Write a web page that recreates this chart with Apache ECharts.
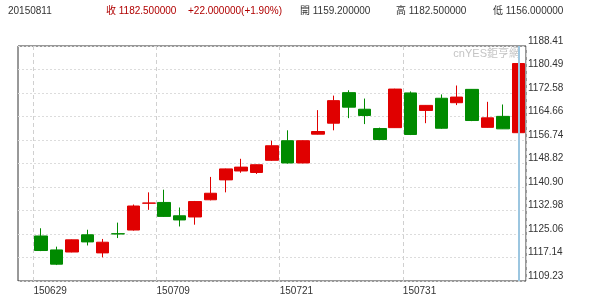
<!DOCTYPE html>
<html><head><meta charset="utf-8">
<script src="https://cdn.jsdelivr.net/npm/echarts@6/dist/echarts.min.js"></script>
<style>html,body{margin:0;padding:0;background:#fff}#c{width:600px;height:304px}</style>
</head><body><div id="c"></div>
<script>
var dates = ['', '150629','150630','150701','150702','150703','150706','150707','150708','150709','150710','150713','150714','150715','150716','150717','150720','150721','150722','150723','150724','150727','150728','150729','150730','150731','150803','150804','150805','150806','150807','150810','150811'];
var opens  = [1124.4,1119.7,1119.0,1124.8,1118.7,1125.15,1126.4,1135.45,1135.7,1131.2,1130.8,1136.6,1143.3,1146.3,1145.8,1149.9,1156.5,1149.0,1158.7,1162.4,1172.7,1167.1,1160.6,1160.9,1172.6,1166.7,1170.8,1169.3,1173.8,1161.0,1164.7,1159.2];
var closes = [1119.5,1114.9,1123.1,1122.4,1122.3,1125.1,1134.5,1135.5,1131.0,1129.8,1136.0,1138.8,1147.0,1147.6,1148.4,1154.8,1149.0,1156.5,1159.6,1170.0,1167.8,1165.0,1156.9,1173.9,1158.6,1168.4,1160.7,1171.2,1163.3,1164.2,1160.5,1182.5];
var highs  = [1127.0,1120.8,1123.2,1126.5,1123.4,1128.9,1135.0,1139.1,1140.0,1134.0,1136.2,1144.3,1147.1,1150.4,1148.5,1156.5,1160.0,1156.6,1166.8,1171.7,1173.5,1170.7,1160.9,1174.0,1173.1,1168.5,1172.1,1175.1,1173.9,1169.6,1168.7,1182.5];
var lows   = [1119.3,1114.6,1118.9,1121.2,1117.2,1123.7,1126.2,1133.2,1130.8,1127.6,1128.2,1136.4,1139.1,1145.7,1145.3,1149.7,1148.8,1148.9,1158.6,1160.0,1164.1,1162.1,1156.7,1160.8,1158.4,1162.4,1160.5,1168.5,1163.1,1160.9,1160.6,1156.0];
var yTickLabels = ['1109.23','1117.14','1125.06','1132.98','1140.90','1148.82','1156.74','1164.66','1172.58','1180.49','1188.41'];
var xTickIndex = [1, 9, 17, 25];
var header = {date:'20150811', close:'收 1182.500000', change:'+22.000000(+1.90%)', open:'開 1159.200000', high:'高 1182.500000', low:'低 1156.000000'};

var FONT = "'Liberation Sans','Noto Sans CJK TC',sans-serif";
var kdata = [['-','-','-','-']];
for (var i = 0; i < opens.length; i++) kdata.push([opens[i], closes[i], lows[i], highs[i]]);
var yMin = parseFloat(yTickLabels[0]), yMax = parseFloat(yTickLabels[yTickLabels.length-1]);

var chart = echarts.init(document.getElementById('c'), null, {renderer:'canvas'});
function txt(x, s, color){ return {type:'text', left:x, top:6, style:{text:s, fill:color, font:'10px '+FONT}}; }
chart.setOption({
  animation:false,
  backgroundColor:'#fff',
  grid:{left:18, top:46, width:508, height:235, show:true, borderColor:'#333', borderWidth:1, backgroundColor:'transparent'},
  graphic:[
    txt(8, header.date, '#333'),
    txt(106, header.close, '#b00000'),
    txt(188, header.change, '#b00000'),
    txt(300, header.open, '#333'),
    txt(396, header.high, '#333'),
    txt(493, header.low, '#333'),
    {type:'text', right:80, top:48, z:1, style:{text:'cnYES鉅亨網', fill:'#c4c4c4', font:'11px '+FONT}}
  ],
  xAxis:[
    {type:'category', data:dates, boundaryGap:true, axisLine:{show:false}, axisTick:{show:false}, axisLabel:{show:false}, splitLine:{show:false}},
    {type:'value', min:0, max:dates.length, interval:1, position:'bottom',
     axisLine:{show:false}, axisTick:{show:false},
     axisLabel:{show:true, align:'left', margin:5, color:'#333', fontSize:10, fontFamily:FONT,
       formatter:function(v){ return xTickIndex.indexOf(v) >= 0 ? dates[v] : ''; }},
     splitLine:{show:true, lineStyle:{type:[4,3], width:1, color:['transparent','#d0d0d0','transparent','transparent','transparent','transparent','transparent','transparent']}}}
  ],
  yAxis:[
    {type:'value', min:yMin, max:yMax, show:false, splitLine:{show:false}},
    {type:'value', min:0, max:yTickLabels.length-1, interval:1, position:'right',
     axisLine:{show:false}, axisTick:{show:false},
     axisLabel:{show:true, margin:2, verticalAlign:'bottom', color:'#333', fontSize:10, fontFamily:FONT,
       formatter:function(v){ return yTickLabels[v]; }},
     splitLine:{show:true, lineStyle:{type:[2,2], color:'#dcdcdc', width:1}}}
  ],
  series:[{
    type:'candlestick', xAxisIndex:0, yAxisIndex:0, data:kdata, barWidth:13,
    itemStyle:{color:'#e00000', color0:'#008a00', borderColor:'#e00000', borderColor0:'#008a00', borderWidth:1},
    markLine:{silent:true, symbol:'none', label:{show:false}, animation:false,
      lineStyle:{color:'#9cc6e0', width:2, type:'solid'},
      data:[{xAxis: dates[dates.length-1]}]}
  }]
});
</script></body></html>
